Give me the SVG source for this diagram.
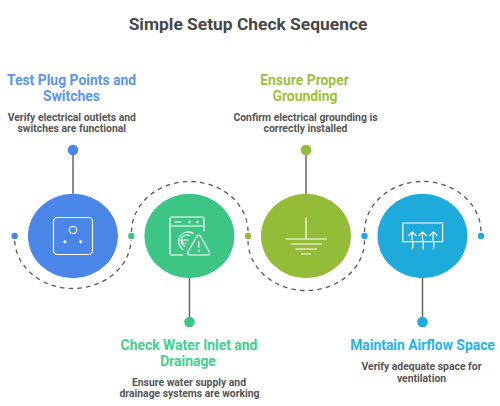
<svg xmlns="http://www.w3.org/2000/svg" width="500" height="406" viewBox="0 0 500 406">
<style>
text{font-family:Roboto,"Liberation Sans",sans-serif;text-anchor:middle}
.t{font-size:17.4px;font-weight:700;fill:#474747}
.h{font-size:13.900px;font-weight:700}
.d{font-size:10.400px;font-weight:700;fill:#555}
.arc{fill:none;stroke:#595959;stroke-width:1.3;stroke-dasharray:4.5 4.2}
.stem{stroke:#666;stroke-width:1.5;fill:none}
.i{fill:none;stroke:#fff;stroke-width:1.2;stroke-linecap:round;stroke-linejoin:round}
.f{fill:#fff}
</style>
<rect width="500" height="406" fill="#fff"/>
<text class="t" x="248" y="29.500">Simple Setup Check Sequence</text>
<g id="connectors">
<path class="arc" d="M14.700 241A58.200 50 0 0 0 131 240"/>
<path class="arc" d="M131.500 232A58.200 50.500 0 0 1 248 232"/>
<path class="arc" d="M248 241A58.200 50 0 0 0 364.500 240"/>
<path class="arc" d="M364.500 232A58.200 50.500 0 0 1 481 232"/>
<path class="stem" d="M73 150V194M189.500 278V322M306 150V194M422.500 278V322"/>
</g>
<g id="node1">
<ellipse cx="73" cy="236" rx="45" ry="42.200" fill="#4a86e8"/>
<circle cx="14.700" cy="236" r="3.200" fill="#4a86e8"/>
<circle cx="73" cy="150" r="5.300" fill="#4a86e8"/>
<rect class="i" x="53.500" y="217.500" width="39" height="37" rx="4"/>
<ellipse class="i" cx="73" cy="230" rx="3.700" ry="3.500"/>
<circle class="f" cx="65" cy="241.700" r="1.500"/>
<circle class="f" cx="80.700" cy="241.700" r="1.500"/>
<text class="h" x="71.500" y="85" fill="#5b94f2">Test Plug Points and</text>
<text class="h" x="71.500" y="100.500" fill="#5b94f2">Switches</text>
<text class="d" x="71.800" y="120.500">Verify electrical outlets and</text>
<text class="d" x="71.800" y="132">switches are functional</text>
</g>
<g id="node2">
<ellipse cx="189.500" cy="236" rx="45" ry="42.200" fill="#3dc585"/>
<circle cx="131.300" cy="236" r="3.200" fill="#3dc585"/>
<circle cx="189.500" cy="322" r="5.300" fill="#3dc585"/>
<path class="i" d="M204 231V219Q204 217 202 217H172Q170 217 170 219V253Q170 255 172 255H182.700M170 226H204M175 222H181"/>
<circle class="f" cx="189.500" cy="222" r="1.200"/>
<circle class="f" cx="197.500" cy="222" r="1.200"/>
<path class="i" d="M182.700 249.300A9.200 9.200 0 1 1 193.500 233.500M184.500 246.300A6 6 0 1 1 189.800 235.500M188 240H183.300Q182 240 182 241.500Q182 243.500 184 243.500H185.500"/>
<path class="i" d="M197 236Q198.700 234 200.400 236L209.400 252Q210.500 255 208 255H189.500Q187 255 188 252L197 236Z"/>
<path class="i" d="M198.700 241.700V247.300"/>
<circle class="f" cx="198.700" cy="250.700" r="1"/>
<text class="h" x="189" y="350" fill="#3fd08d">Check Water Inlet and</text>
<text class="h" x="188" y="365.500" fill="#3fd08d">Drainage</text>
<text class="d" x="189" y="385.500">Ensure water supply and</text>
<text class="d" x="189.500" y="397">drainage systems are working</text>
</g>
<g id="node3">
<ellipse cx="306" cy="236" rx="45" ry="42.200" fill="#94bc39"/>
<circle cx="248" cy="236" r="3.200" fill="#94bc39"/>
<circle cx="306" cy="150" r="5.300" fill="#94bc39"/>
<path class="i" d="M306 218V239M286 239H326.500M291 244H321.500M296 249H316.500M301.500 254H310.500"/>
<text class="h" x="304.500" y="85" fill="#9ac23f">Ensure Proper</text>
<text class="h" x="305" y="100.500" fill="#9ac23f">Grounding</text>
<text class="d" x="305.500" y="120.500">Confirm electrical grounding is</text>
<text class="d" x="305.500" y="132">correctly installed</text>
</g>
<g id="node4">
<ellipse cx="422.500" cy="236" rx="45" ry="42.200" fill="#1eaadb"/>
<circle cx="364.500" cy="236" r="3.200" fill="#1eaadb"/>
<circle cx="481" cy="236" r="3.200" fill="#1eaadb"/>
<circle cx="422.500" cy="322" r="5.300" fill="#1eaadb"/>
<rect class="i" x="402.800" y="223" width="39.800" height="18.600"/>
<path class="i" d="M412.300 232Q411.500 238 412.500 241Q413.500 245 412.300 249M408.600 235.500L412.300 232L416 235.500M422.700 232Q422 238 423 241Q424 245 422.700 249M419 235.500L422.700 232L426.400 235.500M433.300 232Q432.500 238 433.500 241Q434.500 245 433.300 249M429.600 235.500L433.300 232L437 235.500"/>
<text class="h" x="422.500" y="350" fill="#26b3ea">Maintain Airflow Space</text>
<text class="d" x="421.500" y="370">Verify adequate space for</text>
<text class="d" x="421.500" y="382">ventilation</text>
</g>
</svg>
